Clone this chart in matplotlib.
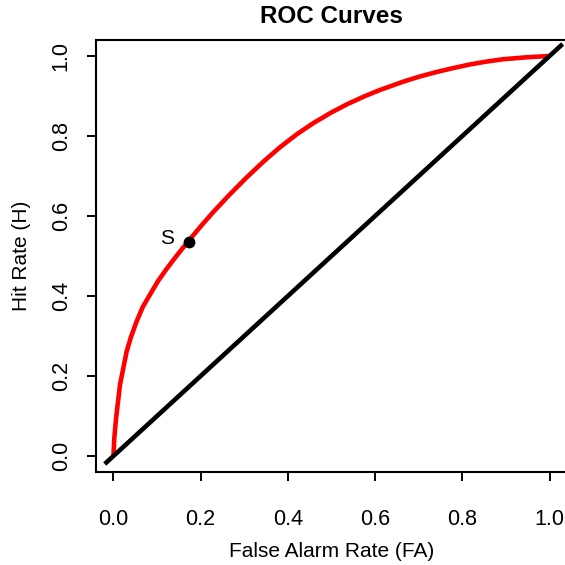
import matplotlib
matplotlib.use("Agg")
import matplotlib.pyplot as plt

plt.rcParams['font.family'] = ['Liberation Sans', 'DejaVu Sans']

# ROC curve (false alarm rate, hit rate)
fa = [0.0, 0.002, 0.006, 0.015, 0.03, 0.04, 0.053, 0.067, 0.084, 0.102,
      0.122, 0.148, 0.174, 0.20, 0.229, 0.265, 0.305, 0.345, 0.382, 0.42,
      0.458, 0.50, 0.535, 0.575, 0.611, 0.665, 0.70, 0.741, 0.78, 0.818,
      0.855, 0.894, 0.95, 1.0]
hit = [0.0, 0.045, 0.094, 0.178, 0.26, 0.297, 0.336, 0.372, 0.404, 0.437,
       0.468, 0.505, 0.54, 0.574, 0.61, 0.652, 0.696, 0.737, 0.772, 0.804,
       0.832, 0.859, 0.879, 0.899, 0.915, 0.936, 0.948, 0.96, 0.97, 0.979,
       0.986, 0.992, 0.997, 1.0]

# chance diagonal
chance_x = [-0.02, 1.03]
chance_y = [-0.02, 1.03]

# criterion point S
s_fa = 0.174
s_hit = 0.535
s_label = "S"

ticks = [0.0, 0.2, 0.4, 0.6, 0.8, 1.0]
tick_labels = ["0.0", "0.2", "0.4", "0.6", "0.8", "1.0"]

fig = plt.figure(figsize=(5.65, 5.65), dpi=100)
ax = fig.add_axes([96 / 565, 93 / 565, 471 / 565, 432 / 565])

ax.plot(fa, hit, color="#ff0000", lw=3.3, solid_capstyle="butt",
        solid_joinstyle="round", zorder=2)
ax.plot(chance_x, chance_y, color="black", lw=3.3, solid_capstyle="butt", zorder=3)
ax.plot([s_fa], [s_hit], "o", color="black", ms=7.5, zorder=4)
ax.text(s_fa - 0.035, s_hit + 0.008, s_label, fontsize=15, ha="right", va="center")

ax.set_xlim(-0.04, 1.04)
ax.set_ylim(-0.04, 1.04)
ax.set_xticks(ticks)
ax.set_xticklabels(tick_labels)
ax.set_yticks(ticks)
ax.set_yticklabels(tick_labels, rotation=90, va="center")
ax.tick_params(axis="both", length=6.5, width=1.4, labelsize=15.5, direction="out")
ax.tick_params(axis="x", pad=20)
ax.tick_params(axis="y", pad=11)
for sp in ax.spines.values():
    sp.set_linewidth(1.5)

ax.set_xlabel("False Alarm Rate (FA)", fontsize=15, labelpad=9)
ax.set_ylabel("Hit Rate (H)", fontsize=15, labelpad=14)
ax.set_title("ROC Curves", fontsize=17.5, fontweight="bold", pad=12)

fig.savefig("out.png", dpi=100)
